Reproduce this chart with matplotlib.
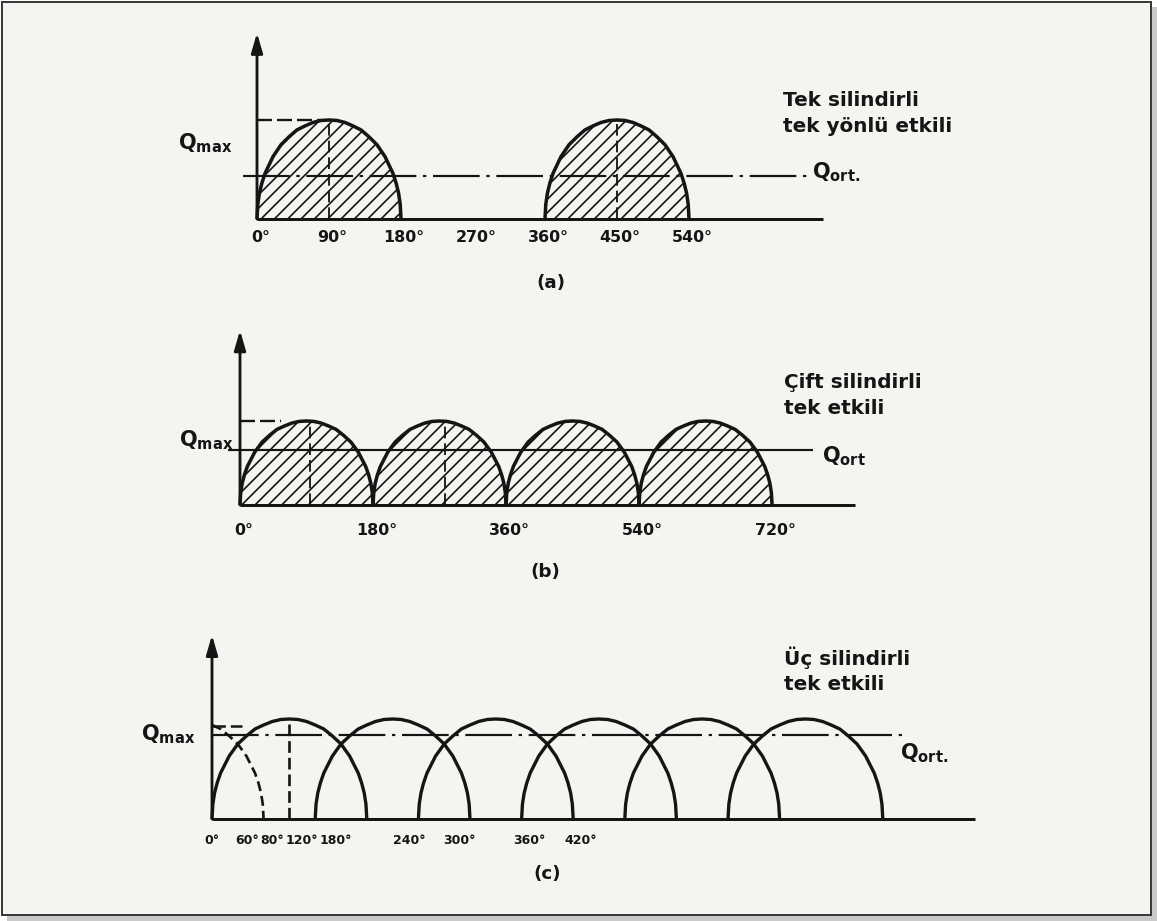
import numpy as np
import matplotlib
matplotlib.use("Agg")
import matplotlib.pyplot as plt
from matplotlib.patches import Rectangle

# ---------------- data ----------------
# one delivery stroke: flow as a fraction of Qmax against crank angle inside the stroke
stroke_deg = [0, 1, 3, 6, 10, 20, 30, 40, 50, 60, 70, 80, 90,
              100, 110, 120, 130, 140, 150, 160, 170, 174, 177, 179, 180]
stroke_q = [0.0, 0.15, 0.26, 0.36, 0.46, 0.63, 0.75, 0.83, 0.90, 0.94, 0.975, 0.995, 1.0,
            0.995, 0.975, 0.94, 0.90, 0.83, 0.75, 0.63, 0.46, 0.36, 0.26, 0.15, 0.0]

# (a) single cylinder, single acting
a_starts = [0, 360]
a_peaks = [90, 450]
a_qort = 0.43
a_ticks = [0, 90, 180, 270, 360, 450, 540]
a_title = ["Tek silindirli", "tek yönlü etkili"]

# (b) two cylinders, single acting
b_starts = [0, 180, 360, 540]
b_peaks = [95, 277]
b_qort = 0.65
b_ticks = [0, 180, 360, 540, 720]
b_title = ["Çift silindirli", "tek etkili"]

# (c) three cylinders, single acting
c_starts = [0, 120, 240, 360, 480, 600]
c_prev_start = -120
c_peak = 90
c_qort = 0.84
c_ticks = [0, 60, 80, 120, 180, 240, 300, 360, 420]
c_title = ["Üç silindirli", "tek etkili"]

# ---------------- style / layout ----------------
ink = "#151515"
paper = "#f4f4f1"
W, H, DPI = 1157, 921, 120

plt.rcParams.update({
    "font.family": ["DejaVu Sans"],
    "font.weight": "bold",
    "mathtext.fontset": "dejavusans",
    "hatch.linewidth": 1.0,
    "lines.scale_dashes": False,
    "lines.solid_capstyle": "butt",
})

fig = plt.figure(figsize=(W / DPI, H / DPI), dpi=DPI)
fig.patch.set_facecolor("white")


def fx(x):
    return x / W


def fy(y):
    return 1 - y / H


# page with thin frame and shadow
fig.patches.append(Rectangle((fx(7), fy(H)), (W - 7) / W, (H - 7) / H,
                             transform=fig.transFigure, facecolor="#c9c9c9",
                             edgecolor="none", zorder=-3))
fig.patches.append(Rectangle((fx(2), fy(915)), 1149 / W, 913 / H,
                             transform=fig.transFigure, facecolor=paper,
                             edgecolor="#3a3a3a", lw=1.2, zorder=-2))


def panel(ox, oy, sx, sy, xlim, ylim):
    """axes whose data origin sits at pixel (ox, oy); sx px/deg, sy px per Qmax"""
    left = ox + xlim[0] * sx
    right = ox + xlim[1] * sx
    top = oy - ylim[1] * sy
    bottom = oy - ylim[0] * sy
    ax = fig.add_axes([fx(left), fy(bottom), (right - left) / W, (bottom - top) / H])
    ax.set_xlim(*xlim)
    ax.set_ylim(*ylim)
    ax.axis("off")
    return ax


def axes_lines(ax, ytop, xend):
    ax.annotate("", xy=(0, ytop), xytext=(0, 0),
                arrowprops=dict(arrowstyle="-|>,head_length=0.55,head_width=0.16",
                                lw=1.7, color=ink, mutation_scale=18,
                                shrinkA=0, shrinkB=0), annotation_clip=False)
    ax.plot([0, xend], [0, 0], color=ink, lw=1.8, clip_on=False, zorder=4)


def stroke(ax, start, hatch=True, lw=2.1, ls="-", xmin=None):
    x = start + np.asarray(stroke_deg, float)
    y = np.asarray(stroke_q, float)
    if xmin is not None:
        keep = x >= xmin
        x, y = x[keep], y[keep]
    if hatch:
        ax.fill_between(x, 0, y, facecolor="none", edgecolor=ink, hatch="///",
                        linewidth=0, zorder=1)
    ax.plot(x, y, color=ink, lw=lw, ls=ls, clip_on=False, zorder=3)


def qlabel(ax, x, y, s, ha="left", size=12.5):
    ax.text(x, y, s, ha=ha, va="center", color=ink, fontsize=size, clip_on=False)


def title(lines, x, y, gap=26):
    for i, s in enumerate(lines):
        fig.text(fx(x), fy(y + i * gap), s, ha="left", va="center", color=ink,
                 fontsize=12, fontweight="bold")


dashdot = (0, (28, 4, 2, 4))
dashed = (0, (7, 3))

# ---------------- (a) ----------------
ax = panel(257, 219, 0.80, 99, (-80, 790), (-0.5, 2.0))
for s in a_starts:
    stroke(ax, s)
for p in a_peaks:
    ax.plot([p, p], [0, 1], color=ink, lw=1.1, ls=dashed, zorder=2)
ax.plot([0, 80], [1, 1], color=ink, lw=1.4, ls=(0, (9, 3)), zorder=2)
ax.plot([-17.5, 689], [a_qort, a_qort], color=ink, lw=1.3, ls=dashdot, zorder=2)
axes_lines(ax, 1.88, 707)
qlabel(ax, -31, 0.77, r"$\mathbf{Q_{max}}$", ha="right")
qlabel(ax, 694, 0.47, r"$\mathbf{Q_{ort.}}$")
for t in a_ticks:
    ax.text(t + 4, -0.19, f"{t}°", ha="center", va="center", color=ink,
            fontsize=9.5, clip_on=False)
fig.text(fx(551), fy(283), "(a)", ha="center", va="center", color=ink, fontsize=11)
title(a_title, 783, 100)

# ---------------- (b) ----------------
ax = panel(240, 505, 0.739, 84, (-80, 900), (-0.6, 2.3))
for s in b_starts:
    stroke(ax, s)
for p in b_peaks:
    ax.plot([p, p], [0, 1], color=ink, lw=1.1, ls=dashed, zorder=2)
ax.plot([0, 55], [1, 1], color=ink, lw=1.4, ls=(0, (9, 3)), zorder=2)
ax.plot([-16, 775], [b_qort, b_qort], color=ink, lw=1.3, zorder=2)
axes_lines(ax, 2.08, 832)
qlabel(ax, -9, 0.77, r"$\mathbf{Q_{max}}$", ha="right")
qlabel(ax, 788, 0.58, r"$\mathbf{Q_{ort}}$")
for t in b_ticks:
    ax.text(t + 5, -0.3, f"{t}°", ha="center", va="center", color=ink,
            fontsize=9.5, clip_on=False)
fig.text(fx(545), fy(572), "(b)", ha="center", va="center", color=ink, fontsize=11)
title(b_title, 784, 383)

# ---------------- (c) ----------------
ax = panel(212, 819, 0.86, 100, (-80, 920), (-0.5, 2.0))
for s in c_starts:
    stroke(ax, s, hatch=False, lw=2.0)
stroke(ax, c_prev_start, hatch=False, lw=1.6, ls=(0, (6, 3)), xmin=0)
ax.plot([c_peak, c_peak], [0, 1], color=ink, lw=1.6, ls=(0, (7, 3)), zorder=2)
ax.plot([0, 35], [0.93, 0.93], color=ink, lw=1.5, ls=(0, (8, 3)), zorder=2)
ax.plot([0, 808], [c_qort, c_qort], color=ink, lw=1.3, ls=dashdot, zorder=2)
axes_lines(ax, 1.84, 887)
qlabel(ax, -20, 0.85, r"$\mathbf{Q_{max}}$", ha="right")
qlabel(ax, 800, 0.66, r"$\mathbf{Q_{ort.}}$")
c_label_x = [0, 41, 70, 104, 144, 230, 288, 369, 429]   # where the labels are lettered
for t, lx in zip(c_ticks, c_label_x):
    ax.text(lx, -0.21, f"{t}°", ha="center", va="center", color=ink,
            fontsize=7.5, clip_on=False)
fig.text(fx(547), fy(874), "(c)", ha="center", va="center", color=ink, fontsize=11)
title(c_title, 784, 658)

fig.savefig("out.png", dpi=DPI, facecolor=fig.get_facecolor())
